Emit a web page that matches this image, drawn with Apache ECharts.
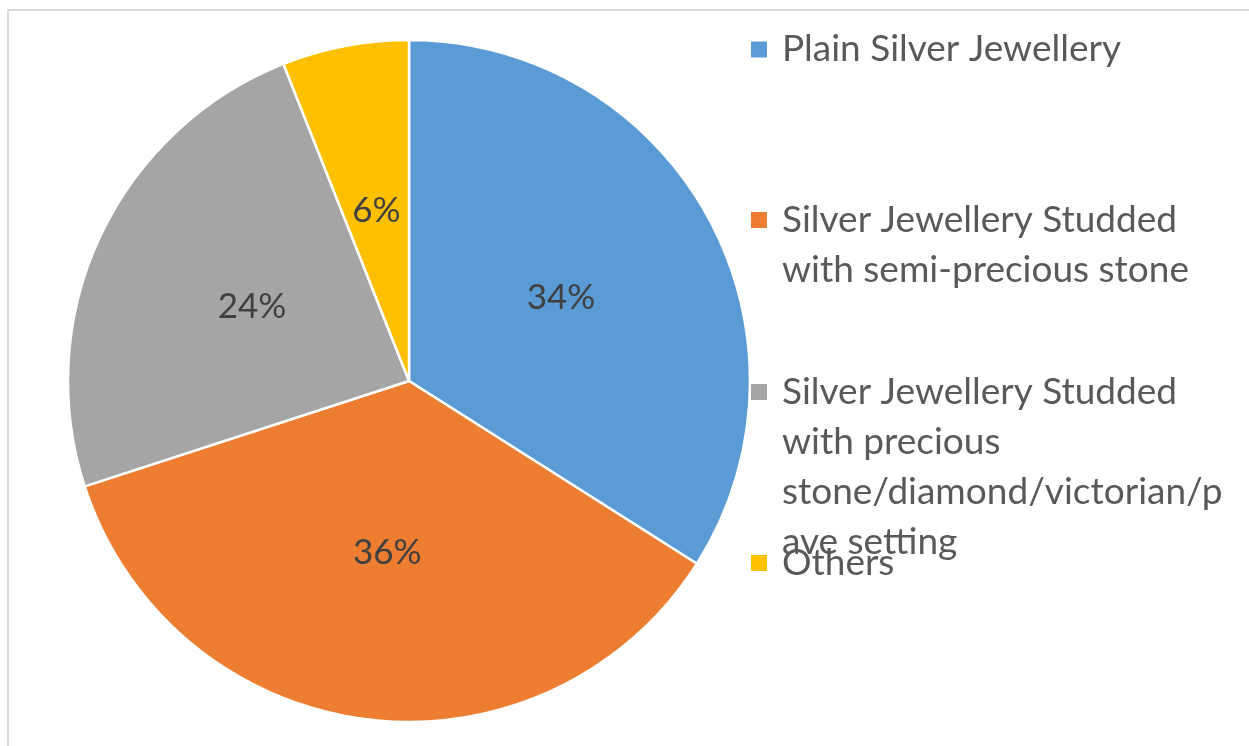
<!DOCTYPE html>
<html>
<head>
<meta charset="utf-8">
<script src="https://cdn.jsdelivr.net/npm/echarts@6/dist/echarts.min.js"></script>
<style>
  html, body { margin: 0; padding: 0; background: #fff; overflow: hidden; }
  #frame { position: absolute; left: 7px; top: 9px; width: 1400px; height: 900px; border: 2px solid #D9D9D9; box-sizing: border-box; }
  #chart { position: absolute; left: 0; top: 0; width: 1249px; height: 746px; }
</style>
</head>
<body>
<div id="frame"></div>
<div id="chart"></div>
<script>
const categories = [
  "Plain Silver Jewellery",
  "Silver Jewellery Studded with semi-precious stone",
  "Silver Jewellery Studded with precious stone/diamond/victorian/pave setting",
  "Others"
];
const shares = [34, 36, 24, 6];
const legendLines = [
  ["Plain Silver Jewellery"],
  ["Silver Jewellery Studded", "with semi-precious stone"],
  ["Silver Jewellery Studded", "with precious", "stone/diamond/victorian/p", "ave setting"],
  ["Others"]
];
const colors = ["#5B9BD5", "#ED7D31", "#A5A5A5", "#FFC000"];
const legendCenters = [49.5, 220, 392, 563];

const FONT = "Lato";
const LH = 50;
const LEGEND_FS = 37;
const LABEL_FS = 35;

const legends = categories.map((name, i) => {
  const n = legendLines[i].length;
  return {
    orient: 'vertical',
    left: 749,
    top: legendCenters[i] - (2 * n - 1) * LH / 2,
    padding: 0,
    itemGap: 0,
    itemWidth: 18,
    itemHeight: 18,
    icon: 'rect',
    selectedMode: false,
    data: [name],
    formatter: function () {
      return '\n'.repeat(n - 1) + legendLines[i].join('\n');
    },
    textStyle: {
      fontFamily: FONT,
      fontSize: LEGEND_FS,
      lineHeight: LH,
      color: '#595959',
      padding: [0, 0, 0, 9]
    }
  };
});

const chart = echarts.init(document.getElementById('chart'), null, { renderer: 'canvas' });
chart.setOption({
  animation: false,
  backgroundColor: 'transparent',
  color: colors,
  legend: legends,
  series: [{
    type: 'pie',
    center: [409, 381],
    radius: 341,
    startAngle: 90,
    clockwise: true,
    avoidLabelOverlap: false,
    itemStyle: { borderColor: '#fff', borderWidth: 2.5 },
    label: {
      show: true,
      position: 'inside',
      formatter: '{c}%',
      fontFamily: FONT,
      fontSize: LABEL_FS,
      color: '#404040'
    },
    labelLine: { show: false },
    emphasis: { disabled: true },
    data: categories.map((name, i) => ({ name: name, value: shares[i] }))
  }]
});
</script>
</body>
</html>
